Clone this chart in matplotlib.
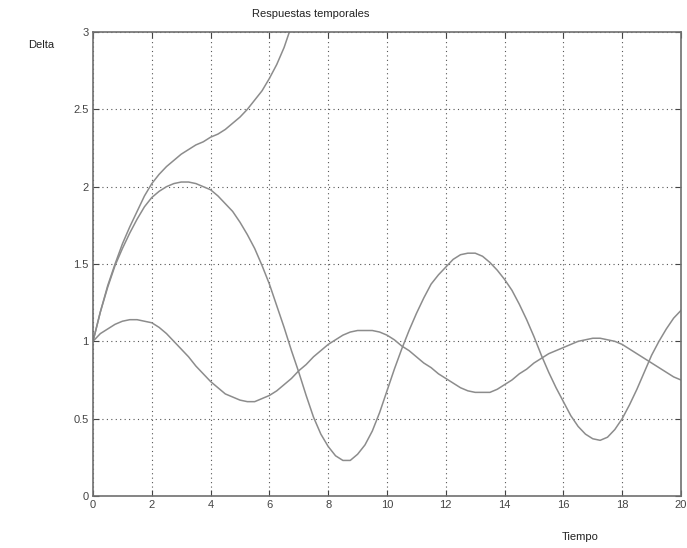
import matplotlib
matplotlib.use('Agg')
import matplotlib.pyplot as plt

plt.rcParams['font.family'] = ['Liberation Sans', 'DejaVu Sans']

# tiempo (s), paso 0.25
t = [i * 0.25 for i in range(81)]
t_inestable = t[:29]

delta_inestable = [1.00, 1.19, 1.36, 1.50, 1.63, 1.74, 1.84, 1.94, 2.02, 2.08,
                   2.13, 2.17, 2.21, 2.24, 2.27, 2.29, 2.32, 2.34, 2.37, 2.41,
                   2.45, 2.50, 2.56, 2.62, 2.70, 2.79, 2.90, 3.04, 3.18]
delta_grande = [1.00, 1.19, 1.35, 1.49, 1.60, 1.70, 1.79, 1.87, 1.93, 1.97,
                2.00, 2.02, 2.03, 2.03, 2.02, 2.00, 1.98, 1.94, 1.89, 1.84,
                1.77, 1.69, 1.60, 1.49, 1.37, 1.23, 1.09, 0.94, 0.80, 0.65,
                0.51, 0.40, 0.32, 0.26, 0.23, 0.23, 0.27, 0.33, 0.42, 0.54,
                0.68, 0.82, 0.95, 1.07, 1.18, 1.28, 1.37, 1.43, 1.48, 1.53,
                1.56, 1.57, 1.57, 1.55, 1.51, 1.46, 1.40, 1.33, 1.24, 1.14,
                1.03, 0.91, 0.80, 0.70, 0.61, 0.52, 0.45, 0.40, 0.37, 0.36,
                0.38, 0.43, 0.50, 0.59, 0.69, 0.80, 0.91, 1.00, 1.08, 1.15,
                1.20]
delta_chica = [1.00, 1.05, 1.08, 1.11, 1.13, 1.14, 1.14, 1.13, 1.12, 1.09,
               1.05, 1.00, 0.95, 0.90, 0.84, 0.79, 0.74, 0.70, 0.66, 0.64,
               0.62, 0.61, 0.61, 0.63, 0.65, 0.68, 0.72, 0.76, 0.81, 0.85,
               0.90, 0.94, 0.98, 1.01, 1.04, 1.06, 1.07, 1.07, 1.07, 1.06,
               1.04, 1.01, 0.97, 0.94, 0.90, 0.86, 0.83, 0.79, 0.76, 0.73,
               0.70, 0.68, 0.67, 0.67, 0.67, 0.69, 0.72, 0.75, 0.79, 0.82,
               0.86, 0.89, 0.92, 0.94, 0.96, 0.98, 1.00, 1.01, 1.02, 1.02,
               1.01, 1.00, 0.98, 0.95, 0.92, 0.89, 0.86, 0.83, 0.80, 0.77,
               0.75]

x_ticks = list(range(0, 21, 2))
y_ticks = [0, 0.5, 1, 1.5, 2, 2.5, 3]
y_labels = ['0', '0.5', '1', '1.5', '2', '2.5', '3']

fig = plt.figure(figsize=(6.87, 5.48), dpi=100)
ax = fig.add_axes([93 / 687, 52 / 548, 588 / 687, 464 / 548])

line_color = '#8c8c8c'
ax.plot(t_inestable, delta_inestable, color=line_color, lw=1.1)
ax.plot(t, delta_grande, color=line_color, lw=1.1)
ax.plot(t, delta_chica, color=line_color, lw=1.1)

ax.set_xlim(0, 20)
ax.set_ylim(0, 3)
ax.set_xticks(x_ticks)
ax.set_yticks(y_ticks)
ax.set_yticklabels(y_labels)
ax.grid(True, color='#555555', linestyle=(0, (1, 3)), linewidth=0.8)
ax.tick_params(direction='in', top=True, right=True, length=4,
               labelsize=8, colors='#444444', pad=3)
for s in ax.spines.values():
    s.set_color('#707070')
    s.set_linewidth(1.2)

fig.text(311 / 687, 1 - 14 / 548, 'Respuestas temporales', ha='center',
         va='center', fontsize=8, color='#222222')
fig.text(41 / 687, 1 - 45 / 548, 'Delta', ha='center', va='center',
         fontsize=8, color='#222222')
fig.text(580 / 687, 1 - 537 / 548, 'Tiempo', ha='center', va='center',
         fontsize=8, color='#222222')

fig.savefig('out.png', dpi=100)
